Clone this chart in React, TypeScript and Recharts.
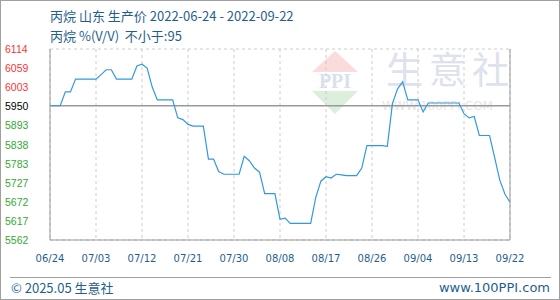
import React from 'react';
import {
  LineChart,
  Line,
  XAxis,
  YAxis,
  CartesianGrid,
  ReferenceLine,
} from 'recharts';

// daily prices, 06/24 .. 09/22
const prices = [
  5950, 5950, 5950, 5990, 5990, 6027, 6027, 6027, 6027, 6027,
  6040, 6054, 6054, 6027, 6027, 6027, 6027, 6065, 6070, 6059,
  6004, 5967, 5967, 5967, 5967, 5915, 5910, 5896, 5891, 5891,
  5891, 5796, 5796, 5760, 5752, 5752, 5752, 5752, 5804, 5791,
  5770, 5758, 5696, 5696, 5696, 5622, 5625, 5610, 5610, 5610,
  5610, 5610, 5685, 5732, 5745, 5741, 5752, 5750, 5748, 5748,
  5748, 5770, 5835, 5835, 5835, 5835, 5833, 5956, 5999, 6019,
  5967, 5967, 5967, 5932, 5958, 5958, 5958, 5958, 5958, 5958,
  5958, 5927, 5915, 5919, 5864, 5864, 5864, 5800, 5735, 5695,
  5671,
];

const BASE = 5950;
const priceTicks = [6114, 6059, 6003, 5950, 5893, 5838, 5783, 5727, 5672, 5617, 5562];
const pctLabels = ['2.75%', '1.82%', '0.89%', '0.00%', '-0.96%', '-1.89%', '-2.82%', '-3.75%', '-4.67%', '-5.60%', '-6.53%'];
const dayTicks = [0, 9, 18, 27, 36, 45, 54, 63, 72, 81, 90];
const dayLabels = ['06/24', '07/03', '07/12', '07/21', '07/30', '08/08', '08/17', '08/26', '09/04', '09/13', '09/22'];

const data = prices.map((price, day) => ({ day, price }));

const RED = '#ff3333';
const GREEN = '#33aa33';
const BLUE_TEXT = '#1f5f8e';

const tickColor = (v: number) => (v > BASE ? RED : v < BASE ? GREEN : '#000');

const LeftTick = ({ y, payload }: any) => (
  <text x={5} y={y} dy={4} fill={tickColor(payload.value)} fontSize={10.5}
    fontFamily="'Liberation Sans', Arial, sans-serif" textAnchor="start">
    {payload.value}
  </text>
);

const RightTick = ({ y, payload }: any) => (
  <text x={514} y={y} dy={4} fill={tickColor(payload.value)} fontSize={10}
    fontFamily="'DejaVu Sans Mono', monospace" textAnchor="start">
    {pctLabels[priceTicks.indexOf(payload.value)]}
  </text>
);

const BottomTick = ({ x, payload }: any) => (
  <text x={x} y={262} fill={BLUE_TEXT} fontSize={10}
    fontFamily="'DejaVu Sans', sans-serif" textAnchor="middle">
    {dayLabels[dayTicks.indexOf(payload.value)]}
  </text>
);

function Watermark() {
  return (
    <svg width={560} height={300} style={{ position: 'absolute', left: 0, top: 0 }}>
      <polygon points="312,72 335,51 358,72" fill="#fbdcdc" />
      <text x={335} y={88} textAnchor="middle" fontSize={20} fontWeight="bold"
        fontFamily="'Liberation Serif', serif" fill="#d9e0ee">PPI</text>
      <polygon points="312,91 358,91 335,114" fill="#dcefdc" />
      <text x={386} y={84} fontSize={37} fontFamily="'Noto Sans CJK SC'" fill="#dde2ec"
        letterSpacing={6}>生意社</text>
      <text x={382} y={110} fontSize={12} fontFamily="'DejaVu Sans', sans-serif" fill="#e6e6e6">
        WWW.100PPI.COM
      </text>
    </svg>
  );
}

export default function App() {
  return (
    <div style={{
      position: 'absolute', left: 0, top: 0, width: 560, height: 300,
      boxSizing: 'border-box', border: '1px solid #a0a0a0', background: '#fff',
      overflow: 'hidden',
    }}>
      <div style={{ position: 'absolute', left: -1, top: -1, width: 560, height: 300 }}>
        <Watermark />
        <div style={{ position: 'absolute', left: 0, top: 0 }}>
          <LineChart width={560} height={300} data={data}
            margin={{ top: 49, right: 0, bottom: 0, left: 0 }}>
            <CartesianGrid stroke="#cccccc" strokeDasharray="3 3" />
            <XAxis dataKey="day" type="number" domain={[0, 90]} ticks={dayTicks}
              height={60} tickLine={false} axisLine={{ stroke: '#999' }} tick={<BottomTick />}
              interval={0} />
            <YAxis yAxisId="left" domain={[5562, 6114]} ticks={priceTicks} width={50}
              tickLine={false} axisLine={{ stroke: '#999' }} tick={<LeftTick />} interval={0} />
            <YAxis yAxisId="right" orientation="right" domain={[5562, 6114]} ticks={priceTicks}
              width={50} tickLine={false} axisLine={{ stroke: '#999' }} tick={<RightTick />}
              interval={0} />
            <ReferenceLine yAxisId="left" y={BASE} stroke="#999" strokeWidth={1.5} />
            <Line yAxisId="left" dataKey="price" stroke="#3399dd" strokeWidth={1.2}
              dot={false} type="linear" isAnimationActive={false} />
          </LineChart>
        </div>
        <div style={{
          position: 'absolute', left: 50, top: 6, fontSize: 13, color: BLUE_TEXT,
          fontFamily: "'Noto Sans CJK SC', sans-serif", lineHeight: '20px', whiteSpace: 'pre',
        }}>
          <div>丙烷 山东 生产价 2022-06-24 - 2022-09-22</div>
          <div>丙烷 %(V/V)  不小于:95</div>
        </div>
        <div style={{
          position: 'absolute', left: 10, top: 277, width: 541, borderTop: '1px solid #a0a0a0',
        }} />
        <div style={{
          position: 'absolute', left: 11, top: 279, fontSize: 13, color: BLUE_TEXT,
          fontFamily: "'Noto Sans CJK SC', sans-serif", lineHeight: '18px',
        }}>© 2025.05 生意社</div>
        <div style={{
          position: 'absolute', right: 10, top: 279, fontSize: 13, color: BLUE_TEXT,
          fontFamily: "'DejaVu Sans', sans-serif", lineHeight: '18px',
        }}>www.100PPI.com</div>
      </div>
    </div>
  );
}
